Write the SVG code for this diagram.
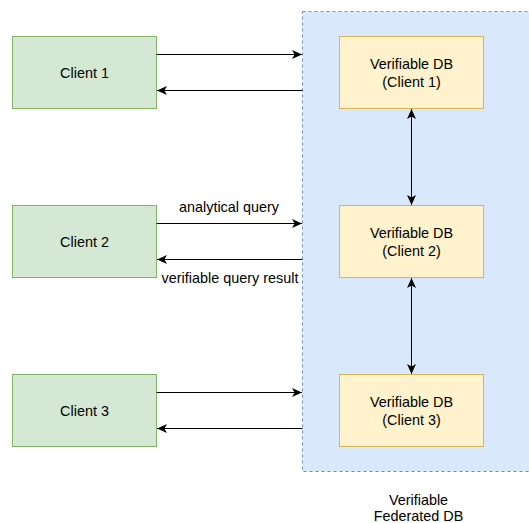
<svg xmlns="http://www.w3.org/2000/svg" width="529" height="523" viewBox="0 0 529 523">
<style>
.client{fill:#d5e8d4;stroke:#82b366;stroke-width:1}
.db{fill:#fff2cc;stroke:#d6b656;stroke-width:1}
.fed{fill:#dae8fc;stroke:#6c8ebf;stroke-width:1;stroke-dasharray:3 3}
text{font-family:"Liberation Sans",Arial,Helvetica,sans-serif;font-size:14.4px;fill:#000;text-anchor:middle}
.conn{stroke:#000;stroke-width:1;fill:none;marker-end:url(#arr)}
.both{marker-start:url(#arr)}
</style>
<defs>
<marker id="arr" viewBox="0 0 10 10" refX="10" refY="5" markerWidth="10" markerHeight="10" markerUnits="userSpaceOnUse" orient="auto-start-reverse">
<path d="M0,0.5 L10,5 L0,9.5 L2.6,5 Z" fill="#000"/>
</marker>
</defs>
<g id="federated">
<rect class="fed" x="302.5" y="11.5" width="240" height="460"/>
<text x="418.5" y="505">Verifiable</text>
<text x="418.5" y="521">Federated DB</text>
</g>
<g id="client1"><rect class="client" x="12.5" y="36.5" width="144" height="72"/><text x="84.5" y="77.5">Client 1</text></g>
<g id="client2"><rect class="client" x="12.5" y="205.5" width="144" height="72"/><text x="84.5" y="246.5">Client 2</text></g>
<g id="client3"><rect class="client" x="12.5" y="374.5" width="144" height="72"/><text x="84.5" y="415.5">Client 3</text></g>
<g id="db1"><rect class="db" x="339.5" y="36.5" width="144" height="72"/><text x="411.5" y="69">Verifiable DB</text><text x="411.5" y="86.5">(Client 1)</text></g>
<g id="db2"><rect class="db" x="339.5" y="205.5" width="144" height="72"/><text x="411.5" y="238">Verifiable DB</text><text x="411.5" y="255.5">(Client 2)</text></g>
<g id="db3"><rect class="db" x="339.5" y="374.5" width="144" height="72"/><text x="411.5" y="407">Verifiable DB</text><text x="411.5" y="424.5">(Client 3)</text></g>
<g id="connectors">
<path class="conn" d="M156.5,54.5 L302,54.5"/>
<path class="conn" d="M302.5,90.5 L157,90.5"/>
<path class="conn" d="M156.5,223.5 L302,223.5"/>
<path class="conn" d="M302.5,259.5 L157,259.5"/>
<path class="conn" d="M156.5,392.5 L302,392.5"/>
<path class="conn" d="M302.5,428.5 L157,428.5"/>
<path class="conn both" d="M411.5,109 L411.5,205"/>
<path class="conn both" d="M411.5,278 L411.5,374"/>
<text x="229" y="212">analytical query</text>
<text x="230" y="283">verifiable query result</text>
</g>
</svg>
